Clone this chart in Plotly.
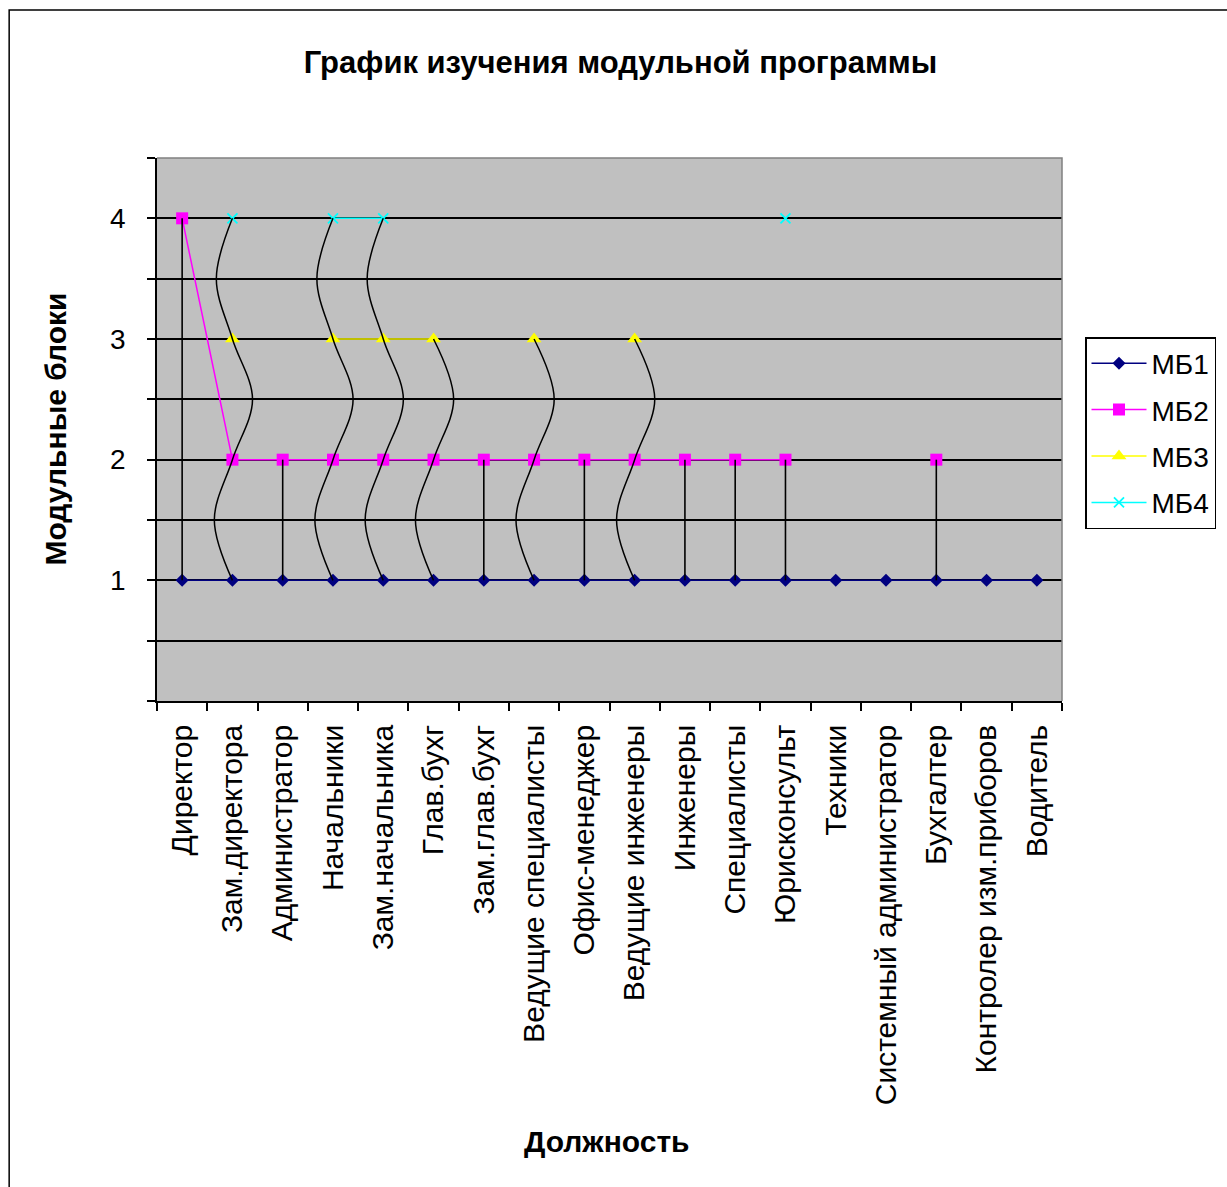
import math
import plotly.graph_objects as go

# --- data -------------------------------------------------------------
positions = [
    "Директор", "Зам.директора", "Администратор", "Начальники",
    "Зам.начальника", "Глав.бухг", "Зам.глав.бухг", "Ведущие специалисты",
    "Офис-менеджер", "Ведущие инженеры", "Инженеры", "Специалисты",
    "Юрисконсульт", "Техники", "Системный администратор", "Бухгалтер",
    "Контролер изм.приборов", "Водитель",
]
mb1 = [1, 1, 1, 1, 1, 1, 1, 1, 1, 1, 1, 1, 1, 1, 1, 1, 1, 1]
mb2 = [4, 2, 2, 2, 2, 2, 2, 2, 2, 2, 2, 2, 2, None, None, 2, None, None]
mb3 = [None, 3, None, 3, 3, 3, None, 3, None, 3, None, None, None, None, None, None, None, None]
mb4 = [None, 4, None, 4, 4, None, None, None, None, None, None, None, 4, None, None, None, None, None]
y_tick_labels = {1: "1", 2: "2", 3: "3", 4: "4"}

# --- geometry of the page ---------------------------------------------
W, H = 1227, 1187
L, R, T, B = 157, 164, 158, 486
PW, PH = W - L - R, H - T - B


def px_x(px):
    return (px - L) / PW


def px_y(py):
    return (H - B - py) / PH


FONT = "Liberation Sans, Arial, sans-serif"
x_idx = list(range(len(positions)))

fig = go.Figure()

series = [
    ("МБ1", mb1, "#000080", "diamond", 10),
    ("МБ2", mb2, "#FF00FF", "square", 12),
    ("МБ3", mb3, "#FFFF00", "triangle-up", 13),
    ("МБ4", mb4, "#00FFFF", "x-thin", 10),
]
for name, vals, color, symbol, size in series:
    marker = dict(symbol=symbol, size=size, color=color)
    if symbol == "x-thin":
        marker["line"] = dict(color=color, width=1.8)
    fig.add_trace(go.Scatter(
        x=x_idx, y=vals, name=name, mode="lines+markers",
        line=dict(color=color, width=1.5), marker=marker,
        connectgaps=False, legendgroup=name, hoverinfo="skip",
    ))

# straight drop lines from МБ1 to МБ2 where no third block is studied
drop_x, drop_y = [], []
for i in x_idx:
    if mb3[i] is None and mb2[i] is not None:
        drop_x += [i, i, None]
        drop_y += [mb1[i], mb2[i], None]
fig.add_trace(go.Scatter(
    x=drop_x, y=drop_y, mode="lines", showlegend=False, hoverinfo="skip",
    line=dict(color="black", width=1.6),
))

# wavy connectors running through every block a position studies
wave = {1.5: -0.36, 2.5: 0.40, 3.5: -0.32}
for i in x_idx:
    if mb3[i] is None:
        continue
    top = max(v for v in (mb3[i], mb4[i]) if v is not None)
    ys, xs = [], []
    y = mb1[i]
    while y <= top + 1e-9:
        ys.append(y)
        xs.append(i + wave.get(y, 0.0))
        y += 0.5
    fig.add_trace(go.Scatter(
        x=xs, y=ys, mode="lines", showlegend=False, hoverinfo="skip",
        line=dict(color="black", width=1.5, shape="spline", smoothing=1.0),
    ))

y_ticks = [k * 0.5 for k in range(10)]
fig.update_layout(
    width=W, height=H,
    margin=dict(l=L, r=R, t=T, b=B),
    paper_bgcolor="white",
    plot_bgcolor="#C0C0C0",
    font=dict(family=FONT, color="black"),
    title=dict(
        text="<b>График изучения модульной программы</b>",
        font=dict(family=FONT, size=31, color="black"),
        x=px_x(621), xref="paper", xanchor="center",
        y=1 - 62 / H, yref="container", yanchor="middle",
    ),
    xaxis=dict(
        range=[-0.5, len(positions) - 0.5],
        tickmode="array", tickvals=x_idx, ticktext=positions,
        tickangle=-90, ticks="", ticklabelstandoff=10,
        tickfont=dict(family=FONT, size=30, color="black"),
        showgrid=False, zeroline=False,
        showline=True, linecolor="black", linewidth=1.5,
        minor=dict(
            tickmode="array",
            tickvals=[k - 0.5 for k in range(len(positions) + 1)],
            ticks="outside", ticklen=8, tickwidth=1.5, tickcolor="black",
            showgrid=False,
        ),
        fixedrange=True,
    ),
    yaxis=dict(
        range=[0, 4.5],
        tickmode="array", tickvals=y_ticks,
        ticktext=[y_tick_labels.get(v, "") for v in y_ticks],
        ticks="outside", ticklen=8, tickwidth=1.5, tickcolor="black",
        ticklabelstandoff=16,
        tickfont=dict(family=FONT, size=28, color="black"),
        showgrid=True, gridcolor="black", gridwidth=1.5,
        zeroline=False,
        showline=True, linecolor="black", linewidth=1.5,
        fixedrange=True,
    ),
    legend=dict(
        x=px_x(1085), y=px_y(337), xanchor="left", yanchor="top",
        xref="paper", yref="paper",
        bgcolor="white", bordercolor="black", borderwidth=1.5,
        font=dict(family=FONT, size=28, color="black"),
        tracegroupgap=7, itemwidth=55,
    ),
    showlegend=True,
    annotations=[
        dict(text="<b>Модульные блоки</b>", textangle=-90,
             x=px_x(55), y=0.5, xref="paper", yref="paper",
             xanchor="center", yanchor="middle", showarrow=False,
             font=dict(family=FONT, size=30, color="black")),
        dict(text="<b>Должность</b>",
             x=px_x(607), y=px_y(1141), xref="paper", yref="paper",
             xanchor="center", yanchor="middle", showarrow=False,
             font=dict(family=FONT, size=30, color="black")),
    ],
    shapes=[
        # light border along the top and right of the plotting area
        dict(type="path", path="M 0,1 L 1,1 L 1,0", xref="paper", yref="paper",
             line=dict(color="#808080", width=1.5), layer="above"),
        # outer frame of the chart
        dict(type="rect", xref="paper", yref="paper",
             x0=px_x(9), x1=px_x(1240), y0=px_y(1200), y1=px_y(10),
             line=dict(color="black", width=1.5), fillcolor="rgba(0,0,0,0)",
             layer="below"),
    ],
)

fig.write_html("out.html")
